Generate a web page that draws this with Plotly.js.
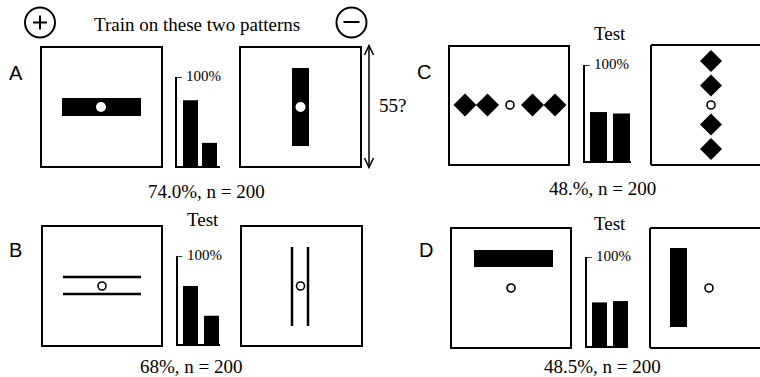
<!DOCTYPE html>
<html><head><meta charset="utf-8">
<script src="https://cdn.plot.ly/plotly-3.0.1.min.js"></script>
<style>html,body{margin:0;padding:0;background:#fff;overflow:hidden}#chart{width:760px;height:377px}</style>
</head><body><div id="chart"></div>
<script>
// ---------- data ----------
const panelNames = ['A', 'B', 'C', 'D'];
const barCategories = ['positive', 'negative'];
const valuesA = [74, 26];
const valuesB = [66, 32];
const valuesC = [51, 49.5];
const valuesD = [49, 50.5];
const captions = ['74.0%, n = 200', '68%, n = 200', '48.%, n = 200', '48.5%, n = 200'];
const tickValues = [100];
const tickLabels = ['100%'];
const headerText = 'Train on these two patterns';
const testText = 'Test';
const sizeText = '55?';

// ---------- layout geometry (pixels) ----------
const W = 760, H = 377;
const SERIF = 'Liberation Serif, Times New Roman, serif';
const SANS = 'Liberation Sans, Arial, sans-serif';
const barGeom = {
  A: {ax: 177, base: 166, top: 77, b1: [183, 198], b2: [202, 217], end: 220},
  B: {ax: 177.5, base: 344, top: 256, b1: [183, 198], b2: [204, 219], end: 220},
  C: {ax: 585, base: 161, top: 65, b1: [590, 607], b2: [613, 630], end: 631},
  D: {ax: 587, base: 346, top: 257, b1: [592, 607], b2: [613, 628], end: 628}
};
const panelValues = {A: valuesA, B: valuesB, C: valuesC, D: valuesD};

const data = [{x: [], y: [], type: 'scatter', xaxis: 'x', yaxis: 'y', hoverinfo: 'skip', showlegend: false}];
const layout = {
  width: W, height: H, margin: {l: 0, r: 0, t: 0, b: 0},
  paper_bgcolor: '#fff', plot_bgcolor: 'rgba(0,0,0,0)', showlegend: false,
  xaxis: {range: [0, W], domain: [0, 1], visible: false, fixedrange: true},
  yaxis: {range: [H, 0], domain: [0, 1], visible: false, fixedrange: true},
  shapes: [], annotations: []
};
const S = layout.shapes;
const A = layout.annotations;

panelNames.forEach((p, i) => {
  const g = barGeom[p];
  const n = i + 2;
  const c1 = (g.b1[0] + g.b1[1]) / 2, c2 = (g.b2[0] + g.b2[1]) / 2;
  const s = c2 - c1;
  const bw = ((g.b1[1] - g.b1[0]) + (g.b2[1] - g.b2[0])) / 2 / s;
  data.push({
    type: 'bar', x: barCategories, y: panelValues[p], width: bw,
    marker: {color: '#000', line: {width: 0}},
    xaxis: 'x' + n, yaxis: 'y' + n, hoverinfo: 'skip'
  });
  layout['xaxis' + n] = {
    type: 'category', domain: [g.ax / W, g.end / W], anchor: 'y' + n,
    range: [(g.ax - c1) / s, (g.end - c1) / s],
    showline: true, linecolor: '#000', linewidth: 2, ticks: '', showticklabels: false,
    showgrid: false, zeroline: false, fixedrange: true
  };
  layout['yaxis' + n] = {
    domain: [1 - g.base / H, 1 - g.top / H], anchor: 'x' + n, range: [0, 100],
    showline: true, linecolor: '#000', linewidth: 2, ticks: '', showticklabels: false,
    showgrid: false, zeroline: false, fixedrange: true
  };
  // top tick (pointing right) and its label at 100%
  S.push({type: 'line', xref: 'x' + n + ' domain', yref: 'y' + n, xsizemode: 'pixel', xanchor: 0,
    x0: -1, x1: 5, y0: tickValues[0], y1: tickValues[0], line: {color: '#000', width: 1.5}});
  A.push({text: tickLabels[0], xref: 'x' + n + ' domain', yref: 'y' + n, x: 0, y: tickValues[0],
    xshift: 7, yshift: 1, xanchor: 'left', yanchor: 'middle', showarrow: false,
    font: {family: SERIF, size: 15, color: '#000'}});
});

// ---------- illustration helpers ----------
function rect(x0, y0, x1, y1, fill, lw) {
  S.push({type: 'rect', xref: 'x', yref: 'y', x0, y0, x1, y1,
    fillcolor: fill || 'rgba(0,0,0,0)', line: {color: '#000', width: lw === undefined ? 2 : lw}});
}
function seg(x0, y0, x1, y1, lw) {
  S.push({type: 'line', xref: 'x', yref: 'y', x0, y0, x1, y1, line: {color: '#000', width: lw || 2}});
}
function openFrame(x0, y0, y1) {
  // frame cut by the right edge of the figure: top, left and bottom sides only
  seg(x0, y0, W, y0); seg(x0, y0, x0, y1); seg(x0, y1, W, y1);
}
function circ(cx, cy, r, fill, lw, col) {
  S.push({type: 'circle', xref: 'x', yref: 'y', x0: cx - r, x1: cx + r, y0: cy - r, y1: cy + r,
    fillcolor: fill, line: {color: col || '#000', width: lw}});
}
function diamond(cx, cy, h) {
  S.push({type: 'path', xref: 'x', yref: 'y',
    path: `M${cx},${cy - h} L${cx + h},${cy} L${cx},${cy + h} L${cx - h},${cy} Z`,
    fillcolor: '#000', line: {width: 0}});
}
function blackBar(x0, y0, x1, y1) { rect(x0, y0, x1, y1, '#000', 0); }

// frames
rect(41, 47, 162, 167); rect(240, 47, 361, 167);
rect(42, 226, 162, 346); rect(241, 226, 362, 346);
rect(449, 46, 569, 165); openFrame(651, 45, 165);
rect(451, 228, 571, 348); openFrame(650, 228, 348);

// A patterns
blackBar(62, 98, 141, 116); circ(101, 107, 5, '#fff', 0, '#fff');
blackBar(292, 68, 309, 146); circ(300.5, 107, 5, '#fff', 0, '#fff');
// B patterns
seg(63, 277, 141, 277, 2.5); seg(63, 294, 141, 294, 2.5); circ(102, 286, 4, '#fff', 1.6);
seg(292, 247, 292, 326, 2.5); seg(308, 247, 308, 326, 2.5); circ(300.5, 286, 4, '#fff', 1.6);
// C patterns
[-45, -22.5, 22.5, 45].forEach(d => diamond(510 + d, 105, 11.5));
circ(510, 105, 4, '#fff', 1.6);
[-44, -19.5, 19.5, 44].forEach(d => diamond(711, 105 + d, 11));
circ(711, 105, 4, '#fff', 1.6);
// D patterns
blackBar(474, 250, 553, 267); circ(511, 288, 4, '#fff', 1.6);
blackBar(670, 248, 687, 327); circ(709, 288, 4, '#fff', 1.6);

// plus / minus circles
circ(40, 22.5, 15, 'rgba(0,0,0,0)', 2);
seg(33, 22.5, 47, 22.5, 2); seg(40, 15.5, 40, 29.5, 2);
circ(351.5, 22.5, 15, 'rgba(0,0,0,0)', 2);
seg(343.5, 22, 359.5, 22, 2);

// double arrow
seg(369, 46, 369, 167, 1.5);
S.push({type: 'path', xref: 'x', yref: 'y', path: 'M364.5,55 L369,45.5 L373.5,55', fillcolor: 'rgba(0,0,0,0)', line: {color: '#000', width: 1.5}});
S.push({type: 'path', xref: 'x', yref: 'y', path: 'M364.5,158 L369,167.5 L373.5,158', fillcolor: 'rgba(0,0,0,0)', line: {color: '#000', width: 1.5}});

// ---------- text ----------
function txt(text, x, y, font, size, xanchor) {
  A.push({text, x, y, xref: 'x', yref: 'y', xanchor: xanchor || 'center', yanchor: 'middle',
    showarrow: false, font: {family: font, size, color: '#000'}});
}
txt(headerText, 197, 24, SERIF, 19);
txt(testText, 610, 33, SERIF, 19);
txt(testText, 203, 219, SERIF, 19);
txt(testText, 610, 223, SERIF, 19);
txt(captions[0], 206, 191, SERIF, 19);
txt(captions[1], 191, 366, SERIF, 19);
txt(captions[2], 602, 188, SERIF, 19);
txt(captions[3], 602, 366, SERIF, 19);
txt(sizeText, 377, 105, SERIF, 19, 'left');
txt(panelNames[0], 16, 73, SANS, 20);
txt(panelNames[1], 15.5, 250, SANS, 20);
txt(panelNames[2], 424, 72, SANS, 20);
txt(panelNames[3], 425.5, 250, SANS, 20);

Plotly.newPlot('chart', data, layout, {staticPlot: true, displayModeBar: false});
</script></body></html>
